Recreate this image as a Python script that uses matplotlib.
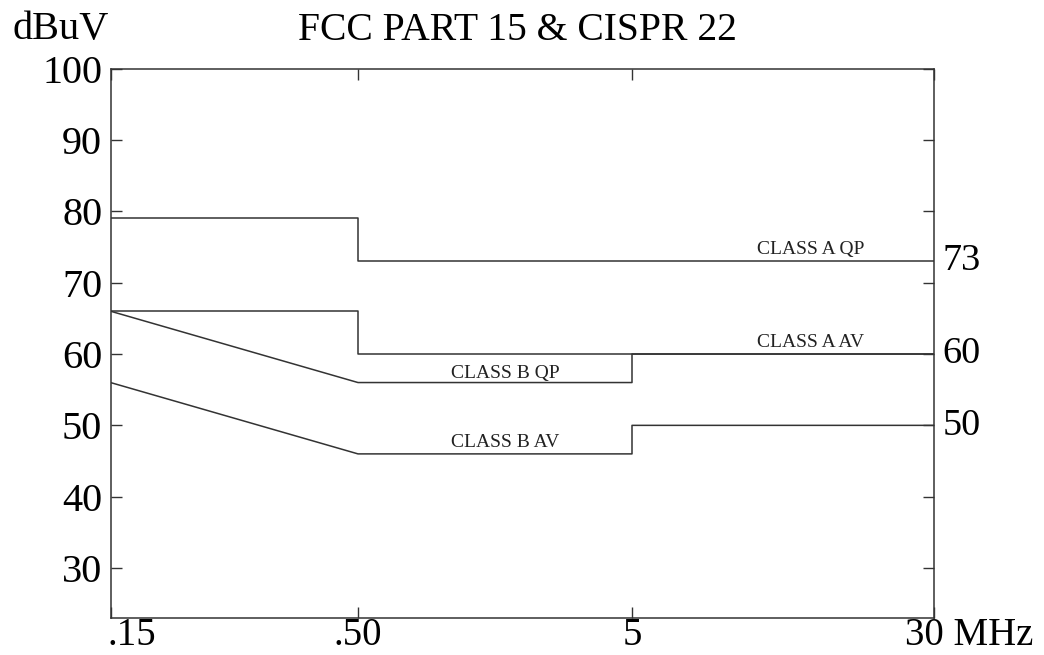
import numpy as np
import matplotlib
matplotlib.use("Agg")
import matplotlib.pyplot as plt
import matplotlib.transforms as mtransforms
from matplotlib.scale import FuncScale

plt.rcParams['font.family'] = ['Liberation Serif', 'DejaVu Serif']

# ---- data ----
freq_a = [0.15, 0.5, 0.5, 30]
class_a_qp = [79, 79, 73, 73]
class_a_av = [66, 66, 60, 60]
freq_b = [0.15, 0.5, 5, 5, 30]
class_b_qp = [66, 56, 56, 60, 60]
class_b_av = [56, 46, 46, 50, 50]

x_ticks = [0.15, 0.5, 5, 30]
x_tick_labels = ['.15', '.50', '5', '30 MHz']
y_ticks = [30, 40, 50, 60, 70, 80, 90, 100]
right_labels = [73, 60, 50]

labels = ['CLASS A QP', 'CLASS A AV', 'CLASS B QP', 'CLASS B AV']
label_x = [14.4, 14.4, 1.72, 1.72]
label_y = [74.65, 61.6, 57.3, 47.6]

# piecewise log axis (the original spaces the ticks unevenly)
_logt = np.log10(x_ticks)
_pos = np.array([0.0, 247.5, 521.5, 823.5])

def fwd(x):
    x = np.clip(np.asarray(x, dtype=float), 1e-6, None)
    return np.interp(np.log10(x), _logt, _pos)

def inv(p):
    return 10 ** np.interp(np.asarray(p, dtype=float), _pos, _logt)

fig = plt.figure(figsize=(10.44, 6.55), dpi=100)
ax = fig.add_axes([110.5 / 1044, 1 - 618 / 655, (934 - 110.5) / 1044, (618 - 68.6) / 655])
ax.set_xscale(FuncScale(ax, (fwd, inv)))

col = '#333333'
lw = 1.1
ax.plot(freq_a, class_a_qp, color=col, lw=lw)
ax.plot(freq_a, class_a_av, color=col, lw=lw)
ax.plot(freq_b, class_b_qp, color=col, lw=lw)
ax.plot(freq_b, class_b_av, color=col, lw=lw)

ax.set_xlim(0.15, 30)
ax.set_ylim(23, 100)

ax.set_xticks(x_ticks)
ax.set_xticklabels(x_tick_labels)
ax.set_yticks(y_ticks)
ax.set_yticklabels([str(v) for v in y_ticks])

ax.tick_params(axis='both', direction='in', length=8, width=1, color=col,
               top=True, right=True)
ax.tick_params(axis='y', labelsize=29, pad=6)
ax.tick_params(axis='x', labelsize=28, pad=-1)

xl = ax.xaxis.get_majorticklabels()
xl[0].set_horizontalalignment('left')
xl[0].set_transform(xl[0].get_transform() +
                    mtransforms.ScaledTranslation(-3 / 100, 0, fig.dpi_scale_trans))
xl[-1].set_horizontalalignment('left')
xl[-1].set_transform(xl[-1].get_transform() +
                     mtransforms.ScaledTranslation(-29 / 100, 0, fig.dpi_scale_trans))

for s in ax.spines.values():
    s.set_color(col)
    s.set_linewidth(1.1)

for t, xx, yy in zip(labels, label_x, label_y):
    ax.text(xx, yy, t, ha='center', va='center', fontsize=14, color='#222222')

trans = ax.get_yaxis_transform()
for v in right_labels:
    ax.text(1.01, v, str(v), transform=trans, ha='left', va='center', fontsize=27.5)

fig.text(517 / 1044, 1 - 30 / 655, 'FCC PART 15 & CISPR 22', ha='center', va='center', fontsize=28.5)
fig.text(12 / 1044, 1 - 29 / 655, 'dBuV', ha='left', va='center', fontsize=29)

fig.savefig('out.png', dpi=100)
